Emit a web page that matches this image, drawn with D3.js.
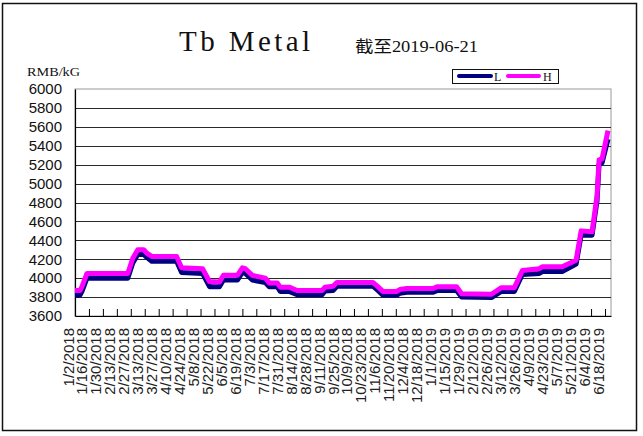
<!DOCTYPE html>
<html><head><meta charset="utf-8">
<script src="https://cdn.jsdelivr.net/npm/d3@7"></script>
<style>body{margin:0;background:#fff;} svg{display:block}</style>
</head><body>
<svg id="c" width="643" height="436"></svg>
<script>
const titleText = "Tb Metal";
const subtitleText = "截至2019-06-21";
const unitText = "RMB/kG";
const seriesNames = ["L", "H"];

const dates = [
  "2018-01-02","2018-01-07","2018-01-09","2018-01-14","2018-02-24","2018-03-01","2018-03-06","2018-03-12",
  "2018-03-15","2018-03-20","2018-04-14","2018-04-19","2018-05-10","2018-05-17","2018-05-27","2018-05-31",
  "2018-06-14","2018-06-19","2018-06-22","2018-06-29","2018-07-12","2018-07-16","2018-07-24","2018-07-27",
  "2018-08-05","2018-08-13","2018-09-07","2018-09-10","2018-09-18","2018-09-22","2018-10-28","2018-11-02",
  "2018-11-07","2018-11-21","2018-11-24","2018-12-01","2018-12-14","2018-12-27","2019-01-01","2019-01-20",
  "2019-01-25","2019-02-24","2019-03-06","2019-03-19","2019-03-27","2019-04-13","2019-04-16","2019-05-06",
  "2019-05-20","2019-05-25","2019-06-05","2019-06-10","2019-06-12","2019-06-15","2019-06-21"
];
const lowValues = [
  3820,3820,3860,4000,4000,4160,4250,4250,
  4220,4180,4180,4060,4050,3910,3910,3980,
  3980,4060,4050,3980,3955,3910,3910,3860,
  3860,3825,3825,3865,3870,3915,3915,3870,
  3820,3820,3840,3850,3850,3850,3870,3870,
  3800,3795,3860,3860,4040,4050,4070,4070,
  4150,4455,4455,4820,5200,5220,5470
];
const highValues = [
  3870,3870,3910,4050,4050,4210,4300,4300,
  4265,4230,4230,4110,4100,3965,3960,4030,
  4030,4110,4100,4030,4000,3950,3950,3905,
  3905,3870,3870,3905,3915,3955,3955,3910,
  3860,3860,3880,3890,3890,3890,3910,3910,
  3835,3830,3900,3900,4080,4100,4120,4120,
  4190,4500,4490,4870,5250,5260,5560
];
const yTicks = [3600,3800,4000,4200,4400,4600,4800,5000,5200,5400,5600,5800,6000];
const xTickLabels = [
  "1/2/2018","1/16/2018","1/30/2018","2/13/2018","2/27/2018","3/13/2018","3/27/2018","4/10/2018",
  "4/24/2018","5/8/2018","5/22/2018","6/5/2018","6/19/2018","7/3/2018","7/17/2018","7/31/2018",
  "8/14/2018","8/28/2018","9/11/2018","9/25/2018","10/9/2018","10/23/2018","11/6/2018","11/20/2018",
  "12/4/2018","12/18/2018","1/1/2019","1/15/2019","1/29/2019","2/12/2019","2/26/2019","3/12/2019",
  "3/26/2019","4/9/2019","4/23/2019","5/7/2019","5/21/2019","6/4/2019","6/18/2019"
];
const colors = {L: "#000080", H: "#FF00FF"};

const svg = d3.select("#c");
const P = {left: 75, right: 611, top: 89, bottom: 316};
const parseISO = d3.timeParse("%Y-%m-%d");
const parseLbl = d3.timeParse("%m/%d/%Y");

const x = d3.scaleTime()
  .domain([parseISO("2018-01-02"), parseISO("2019-06-24")])
  .range([P.left, P.right]);
const y = d3.scaleLinear().domain([3600, 6000]).range([P.bottom, P.top]);

// outer frame
svg.append("rect").attr("x", 2.5).attr("y", 3.5).attr("width", 634).attr("height", 427)
  .attr("fill", "#fff").attr("stroke", "#111").attr("stroke-width", 1.5);

// title
svg.append("text").attr("x", 179).attr("y", 51)
  .attr("font-family", "'Liberation Serif', serif").attr("font-size", 29)
  .attr("textLength", 131).attr("lengthAdjust", "spacing")
  .attr("fill", "#111").text(titleText);
svg.append("text").attr("x", 355).attr("y", 52)
  .attr("font-family", "'Liberation Serif', 'Noto Sans CJK SC', serif").attr("font-size", 16)
  .attr("textLength", 123).attr("lengthAdjust", "spacingAndGlyphs")
  .attr("fill", "#111").text(subtitleText);

// plot border (gray top/right)
svg.append("rect").attr("x", P.left).attr("y", P.top)
  .attr("width", P.right - P.left).attr("height", P.bottom - P.top)
  .attr("fill", "none").attr("stroke", "#9a9a9a").attr("stroke-width", 1);

// gridlines
svg.append("g").selectAll("line")
  .data(yTicks.filter(v => v > 3600 && v < 6000))
  .join("line")
  .attr("x1", P.left).attr("x2", P.right)
  .attr("y1", d => Math.round(y(d)) + 0.5).attr("y2", d => Math.round(y(d)) + 0.5)
  .attr("stroke", "#2a2a2a").attr("stroke-width", 1);

// y axis
const yAxis = d3.axisLeft(y).tickValues(yTicks).tickSize(0).tickPadding(13).tickFormat(d3.format("d"));
const gy = svg.append("g").attr("transform", `translate(${P.left},0)`).call(yAxis);
gy.select(".domain").attr("stroke", "#000").attr("stroke-width", 1.2);
gy.selectAll("text").attr("font-family", "'Liberation Sans', Arial, sans-serif")
  .attr("font-size", 15).attr("fill", "#111");

// x axis
const tickDates = xTickLabels.map(parseLbl);
const xAxis = d3.axisBottom(x).tickValues(tickDates).tickSizeInner(-7).tickSizeOuter(0)
  .tickFormat((d, i) => xTickLabels[i]);
const gx = svg.append("g").attr("transform", `translate(0,${P.bottom})`).call(xAxis);
gx.select(".domain").attr("stroke", "#000").attr("stroke-width", 1.2);
gx.selectAll(".tick line").attr("stroke", "#000");
gx.selectAll(".tick text")
  .attr("font-family", "'Liberation Sans', Arial, sans-serif").attr("font-size", 15)
  .attr("fill", "#222")
  .attr("text-anchor", "end")
  .attr("transform", "translate(-2,12) rotate(-90)")
  .attr("x", 0).attr("y", 0).attr("dy", 0);

// unit label
svg.append("text").attr("x", 27).attr("y", 76)
  .attr("font-family", "'Liberation Serif', serif").attr("font-size", 13)
  .attr("textLength", 53).attr("lengthAdjust", "spacingAndGlyphs")
  .attr("fill", "#111").text(unitText);

// series
const line = d3.line().x(d => x(d.date)).y(d => y(d.v));
const series = {
  L: dates.map((d, i) => ({date: parseISO(d), v: lowValues[i]})),
  H: dates.map((d, i) => ({date: parseISO(d), v: highValues[i]}))
};
seriesNames.forEach(name => {
  svg.append("path").datum(series[name])
    .attr("d", line).attr("fill", "none")
    .attr("stroke", colors[name]).attr("stroke-width", 5)
    .attr("stroke-linejoin", "round");
});

// legend
const lg = svg.append("g");
lg.append("rect").attr("x", 452.5).attr("y", 69.5).attr("width", 106).attr("height", 14)
  .attr("fill", "#fff").attr("stroke", "#111").attr("stroke-width", 1);
const legendItems = [{name: "L", x0: 459, x1: 491, tx: 494}, {name: "H", x0: 508, x1: 539, tx: 543}];
legendItems.forEach(it => {
  lg.append("line").attr("x1", it.x0).attr("x2", it.x1).attr("y1", 76).attr("y2", 76)
    .attr("stroke", colors[it.name]).attr("stroke-width", 4).attr("stroke-linecap", "round");
  lg.append("text").attr("x", it.tx).attr("y", 81)
    .attr("font-family", "'Liberation Serif', serif").attr("font-size", 12)
    .attr("fill", "#111").text(it.name);
});
</script>
</body></html>
